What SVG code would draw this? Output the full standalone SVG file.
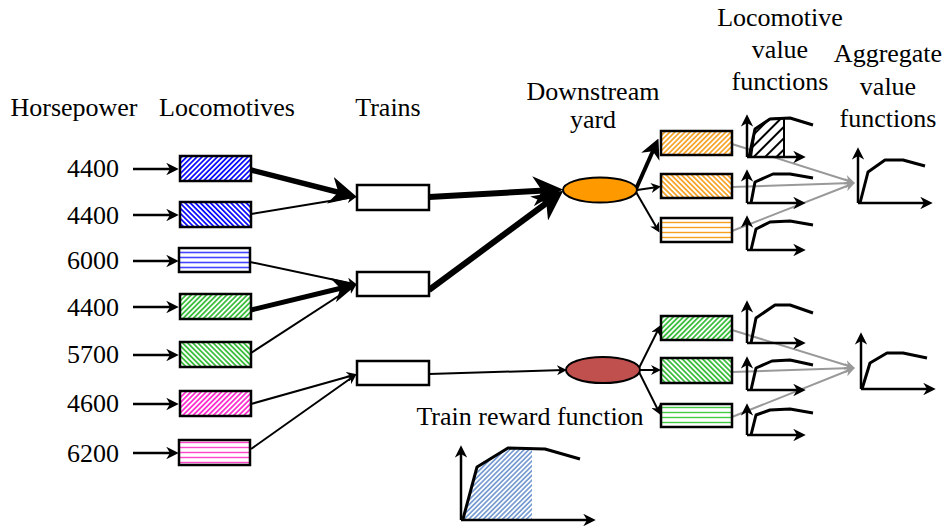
<svg xmlns="http://www.w3.org/2000/svg" width="946" height="529" viewBox="0 0 946 529">
<style>
text{font-family:'Liberation Serif','Tinos','DejaVu Serif',serif;font-size:26px;fill:#000}
.box{stroke:#000;stroke-width:2.5}
.wbox{fill:#fff;stroke:#000;stroke-width:2.5}
.c{fill:none;stroke:#000;marker-end:url(#ah)}
.g{fill:none;stroke:#999;stroke-width:2;marker-end:url(#ahg)}
.ax{fill:none;stroke:#000;stroke-width:2.5;marker-end:url(#ah)}
.cv{fill:none;stroke:#000;stroke-width:3;stroke-linejoin:round}
</style>
<defs>
<marker id="ah" viewBox="0 0 10 10" refX="7" refY="5" markerWidth="5" markerHeight="5" orient="auto"><path d="M0,0 L10,5 L0,10 L3,5 z" fill="#000"/></marker>
<marker id="ahg" viewBox="0 0 10 10" refX="7" refY="5" markerWidth="5" markerHeight="5" orient="auto"><path d="M0,0 L10,5 L0,10 L3,5 z" fill="#999"/></marker>
<pattern id="bF" width="3.6" height="10" patternUnits="userSpaceOnUse" patternTransform="rotate(45)"><rect width="3.6" height="10" fill="#fff"/><line x1="1.8" y1="0" x2="1.8" y2="10" stroke="#00f" stroke-width="1.7"/></pattern>
<pattern id="bB" width="3.6" height="10" patternUnits="userSpaceOnUse" patternTransform="rotate(-45)"><rect width="3.6" height="10" fill="#fff"/><line x1="1.8" y1="0" x2="1.8" y2="10" stroke="#00f" stroke-width="1.7"/></pattern>
<pattern id="bH" width="10" height="5" patternUnits="userSpaceOnUse"><rect width="10" height="5" fill="#fff"/><line x1="0" y1="2.5" x2="10" y2="2.5" stroke="#44f" stroke-width="1.6"/></pattern>
<pattern id="gF" width="3.6" height="10" patternUnits="userSpaceOnUse" patternTransform="rotate(45)"><rect width="3.6" height="10" fill="#fff"/><line x1="1.8" y1="0" x2="1.8" y2="10" stroke="#33bb33" stroke-width="1.7"/></pattern>
<pattern id="gB" width="3.6" height="10" patternUnits="userSpaceOnUse" patternTransform="rotate(-45)"><rect width="3.6" height="10" fill="#fff"/><line x1="1.8" y1="0" x2="1.8" y2="10" stroke="#33bb33" stroke-width="1.7"/></pattern>
<pattern id="gH" width="10" height="5" patternUnits="userSpaceOnUse"><rect width="10" height="5" fill="#fff"/><line x1="0" y1="2.5" x2="10" y2="2.5" stroke="#44cc44" stroke-width="1.4"/></pattern>
<pattern id="mF" width="3.6" height="10" patternUnits="userSpaceOnUse" patternTransform="rotate(45)"><rect width="3.6" height="10" fill="#fff"/><line x1="1.8" y1="0" x2="1.8" y2="10" stroke="#ff22cc" stroke-width="1.7"/></pattern>
<pattern id="mH" width="10" height="5" patternUnits="userSpaceOnUse"><rect width="10" height="5" fill="#fff"/><line x1="0" y1="2.5" x2="10" y2="2.5" stroke="#ff44cc" stroke-width="1.4"/></pattern>
<pattern id="oF" width="3.6" height="10" patternUnits="userSpaceOnUse" patternTransform="rotate(45)"><rect width="3.6" height="10" fill="#fff"/><line x1="1.8" y1="0" x2="1.8" y2="10" stroke="#f7a020" stroke-width="1.7"/></pattern>
<pattern id="oB" width="3.6" height="10" patternUnits="userSpaceOnUse" patternTransform="rotate(-45)"><rect width="3.6" height="10" fill="#fff"/><line x1="1.8" y1="0" x2="1.8" y2="10" stroke="#f7a020" stroke-width="1.7"/></pattern>
<pattern id="oH" width="10" height="5" patternUnits="userSpaceOnUse"><rect width="10" height="5" fill="#fff"/><line x1="0" y1="2.5" x2="10" y2="2.5" stroke="#f7a020" stroke-width="1.4"/></pattern>
<pattern id="kF" width="8" height="10" patternUnits="userSpaceOnUse" patternTransform="rotate(45)"><rect width="8" height="10" fill="#fff"/><line x1="4" y1="0" x2="4" y2="10" stroke="#000" stroke-width="2"/></pattern>
<pattern id="lF" width="3.4" height="10" patternUnits="userSpaceOnUse" patternTransform="rotate(45)"><rect width="3.4" height="10" fill="#fff"/><line x1="1.7" y1="0" x2="1.7" y2="10" stroke="#5b87c8" stroke-width="1.4"/></pattern>
</defs>

<g id="labels">
<text x="74" y="116" text-anchor="middle">Horsepower</text>
<text x="227" y="116" text-anchor="middle">Locomotives</text>
<text x="388" y="116" text-anchor="middle">Trains</text>
<text x="593" y="100" text-anchor="middle">Downstream</text>
<text x="593" y="128" text-anchor="middle">yard</text>
<text x="780" y="26" text-anchor="middle">Locomotive</text>
<text x="780" y="58" text-anchor="middle">value</text>
<text x="780" y="90" text-anchor="middle">functions</text>
<text x="888" y="62" text-anchor="middle">Aggregate</text>
<text x="888" y="95" text-anchor="middle">value</text>
<text x="888" y="127" text-anchor="middle">functions</text>
<text x="530" y="425" text-anchor="middle">Train reward function</text>
<text x="119" y="177" text-anchor="end">4400</text>
<text x="119" y="224" text-anchor="end">4400</text>
<text x="119" y="269" text-anchor="end">6000</text>
<text x="119" y="316" text-anchor="end">4400</text>
<text x="119" y="363" text-anchor="end">5700</text>
<text x="119" y="412" text-anchor="end">4600</text>
<text x="119" y="462" text-anchor="end">6200</text>
</g>

<g id="connectors">
<path class="c" stroke-width="2.5" d="M133,169 L175,169"/>
<path class="c" stroke-width="2.5" d="M133,215 L175,215"/>
<path class="c" stroke-width="2.5" d="M133,261 L175,261"/>
<path class="c" stroke-width="2.5" d="M133,307 L175,307"/>
<path class="c" stroke-width="2.5" d="M133,355 L175,355"/>
<path class="c" stroke-width="2.5" d="M133,404 L175,404"/>
<path class="c" stroke-width="2.5" d="M133,453 L175,453"/>
<path class="c" stroke-width="5.5" d="M251,170 L349,195"/>
<path class="c" stroke-width="2" d="M251,214 L354,197"/>
<path class="c" stroke-width="2" d="M250,262 L354,284"/>
<path class="c" stroke-width="5" d="M251,310 L350,286"/>
<path class="c" stroke-width="2" d="M251,353 L354,286"/>
<path class="c" stroke-width="2" d="M251,404 L354,375"/>
<path class="c" stroke-width="2" d="M251,449 L354,376"/>
<path class="c" stroke-width="6" d="M429,197 L554,190"/>
<path class="c" stroke-width="6" d="M429,290 L556,196"/>
<path class="c" stroke-width="2" d="M429,374 L564,370"/>
<path class="c" stroke-width="4" d="M636,189 L656,144"/>
<path class="c" stroke-width="2" d="M637,190 L658,187"/>
<path class="c" stroke-width="2" d="M636,192 L658,230"/>
<path class="c" stroke-width="2" d="M639,368 L659,328"/>
<path class="c" stroke-width="2" d="M640,370 L658,370"/>
<path class="c" stroke-width="2" d="M639,372 L659,412"/>
<path class="g" d="M732,144 L852,182"/>
<path class="g" d="M732,187 L852,183"/>
<path class="g" d="M732,231 L852,184"/>
<path class="g" d="M732,330 L852,367"/>
<path class="g" d="M732,372 L852,368"/>
<path class="g" d="M732,417 L852,369"/>
</g>

<g id="loco1"><rect class="box" x="180" y="156" width="71" height="25" fill="url(#bF)"/></g>
<g id="loco2"><rect class="box" x="180" y="202" width="71" height="25" fill="url(#bB)"/></g>
<g id="loco3"><rect class="box" x="179" y="248" width="71" height="24" fill="url(#bH)"/></g>
<g id="loco4"><rect class="box" x="180" y="294" width="71" height="25" fill="url(#gF)"/></g>
<g id="loco5"><rect class="box" x="180" y="342" width="71" height="25" fill="url(#gB)"/></g>
<g id="loco6"><rect class="box" x="180" y="391" width="71" height="25" fill="url(#mF)"/></g>
<g id="loco7"><rect class="box" x="179" y="440" width="71" height="25" fill="url(#mH)"/></g>

<g id="train1"><rect class="wbox" x="357" y="185" width="72" height="25"/></g>
<g id="train2"><rect class="wbox" x="357" y="272" width="72" height="24"/></g>
<g id="train3"><rect class="wbox" x="357" y="361" width="72" height="24"/></g>

<g id="yard1"><ellipse cx="600" cy="190" rx="37" ry="12.5" fill="#ff9900" stroke="#000" stroke-width="2"/></g>
<g id="yard2"><ellipse cx="603" cy="370" rx="37" ry="13" fill="#c0504d" stroke="#000" stroke-width="2"/></g>

<g id="box1"><rect class="box" x="661" y="131" width="71" height="24" fill="url(#oF)"/></g>
<g id="box2"><rect class="box" x="661" y="174" width="71" height="24" fill="url(#oB)"/></g>
<g id="box3"><rect class="box" x="661" y="218" width="71" height="24" fill="url(#oH)"/></g>
<g id="box4"><rect class="box" x="661" y="316" width="71" height="24" fill="url(#gF)"/></g>
<g id="box5"><rect class="box" x="661" y="358" width="71" height="25" fill="url(#gB)"/></g>
<g id="box6"><rect class="box" x="661" y="404" width="71" height="23" fill="url(#gH)"/></g>

<g id="vf1">
<path d="M751,157 L755,129 L770,119 L784,118 L784,157 Z" fill="url(#kF)" stroke="#000" stroke-width="2"/>
<path class="ax" d="M747,157 L747,118"/><path class="ax" d="M747,157 L802,157"/>
<path class="cv" d="M749,157 L755,129 L770,119 L790,118 L813,125"/>
</g>
<g id="vf2">
<path class="ax" d="M747,203 L747,173"/><path class="ax" d="M747,203 L802,203"/>
<path class="cv" d="M751,203 L755,182 L773,174 L790,174 L813,178"/>
</g>
<g id="vf3">
<path class="ax" d="M747,250 L747,219"/><path class="ax" d="M747,250 L802,250"/>
<path class="cv" d="M751,250 L756,229 L770,222 L790,221 L813,225"/>
</g>
<g id="vf4">
<path class="ax" d="M747,343 L747,304"/><path class="ax" d="M747,343 L802,343"/>
<path class="cv" d="M751,343 L756,318 L775,305 L790,305 L813,313"/>
</g>
<g id="vf5">
<path class="ax" d="M747,390 L747,360"/><path class="ax" d="M747,390 L802,390"/>
<path class="cv" d="M751,390 L756,368 L772,361 L790,360 L813,365"/>
</g>
<g id="vf6">
<path class="ax" d="M747,435 L747,407"/><path class="ax" d="M747,435 L802,435"/>
<path class="cv" d="M751,435 L756,415 L770,410 L790,409 L813,413"/>
</g>
<g id="agg1">
<path class="ax" d="M858,203 L858,151"/><path class="ax" d="M858,203 L929,203"/>
<path class="cv" d="M860,203 L868,172 L885,160 L903,160 L925,166"/>
</g>
<g id="agg2">
<path class="ax" d="M861,389 L861,336"/><path class="ax" d="M861,389 L932,389"/>
<path class="cv" d="M862,389 L870,363 L887,353 L903,353 L927,358"/>
</g>
<g id="reward">
<path d="M463,520 L477,467 L508,448 L532,448 L532,520 Z" fill="url(#lF)"/>
<path class="ax" d="M461,520 L461,449"/><path class="ax" d="M461,520 L592,520"/>
<path class="cv" d="M463,519 L477,467 L508,448 L545,449 L580,459"/>
</g>
</svg>
